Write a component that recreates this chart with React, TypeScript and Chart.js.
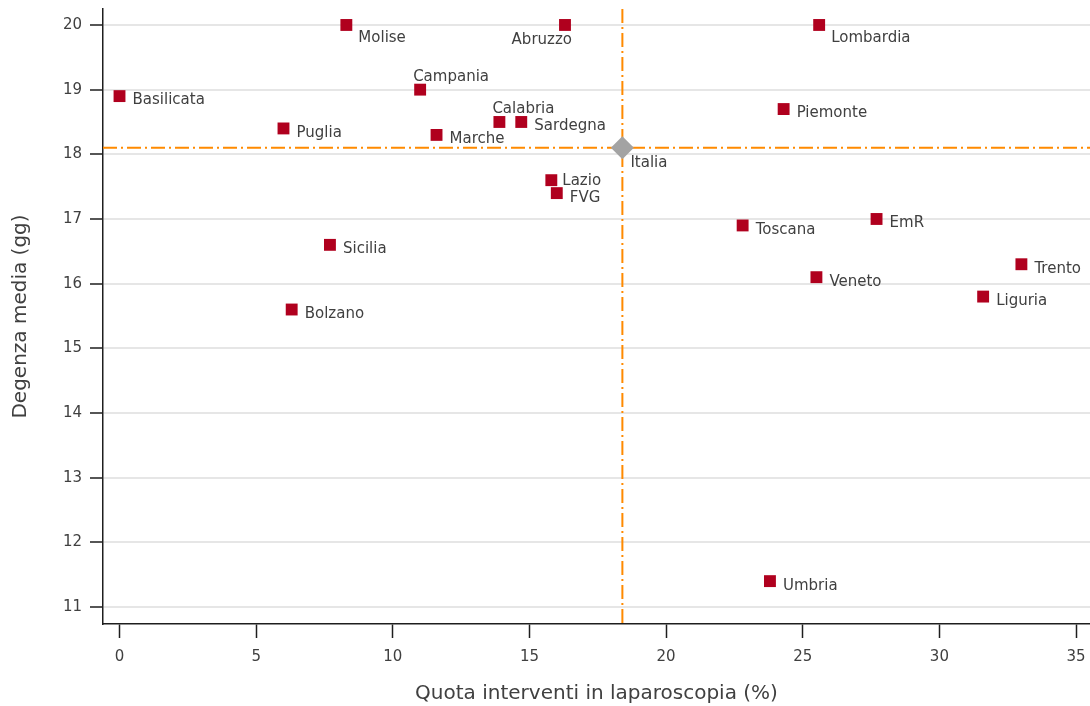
import React, { useEffect, useRef } from "react";
import { Chart, registerables } from "chart.js";

Chart.register(...registerables);

// ---- Data ----
const regions = [
  "Basilicata", "Puglia", "Molise", "Campania", "Marche", "Calabria", "Sardegna",
  "Abruzzo", "Lazio", "FVG", "Sicilia", "Bolzano", "Toscana", "Piemonte",
  "Lombardia", "EmR", "Veneto", "Umbria", "Liguria", "Trento",
];
const laparoscopia = [
  0.0, 6.0, 8.3, 11.0, 11.6, 13.9, 14.7,
  16.3, 15.8, 16.0, 7.7, 6.3, 22.8, 24.3,
  25.6, 27.7, 25.5, 23.8, 31.6, 33.0,
];
const degenza = [
  18.9, 18.4, 20.0, 19.0, 18.3, 18.5, 18.5,
  20.0, 17.6, 17.4, 16.6, 15.6, 16.9, 18.7,
  20.0, 17.0, 16.1, 11.4, 15.8, 16.3,
];
const labelPlacement = [
  "right", "right", "rightLow", "above", "right", "above", "right",
  "belowLeft", "rightHigh", "right", "right", "right", "right", "right",
  "rightLow", "right", "right", "right", "right", "right",
];
const italiaLabel = "Italia";
const italiaX = 18.4;
const italiaY = 18.1;
const xTicks = [0, 5, 10, 15, 20, 25, 30, 35];
const yTicks = [11, 12, 13, 14, 15, 16, 17, 18, 19, 20];
const xTitle = "Quota interventi in laparoscopia (%)";
const yTitle = "Degenza media (gg)";

// ---- Styles ----
const FONT = "'DejaVu Sans', Verdana, sans-serif";
const TEXT = "#404040";
const RED = "#b0001e";
const GREY = "#a3a3a3";
const ORANGE = "#ff8a00";
const AXIS = "#1e1e1e";
const GRID = "#e6e6e6";

const placements: Record<string, { dx: number; dy: number; align: CanvasTextAlign }> = {
  right: { dx: 13, dy: 4.5, align: "left" },
  rightLow: { dx: 12, dy: 13.5, align: "left" },
  rightHigh: { dx: 11, dy: 1, align: "left" },
  above: { dx: -7, dy: -12.5, align: "left" },
  belowLeft: { dx: 7, dy: 15.5, align: "right" },
  italia: { dx: 8, dy: 15.5, align: "left" },
};

const zeroPadding = () => ({ left: 0, top: 0, right: 0, bottom: 0 });

const refLinesPlugin = {
  id: "refLines",
  beforeDatasetsDraw(chart: any) {
    const { ctx, chartArea, scales } = chart;
    const px = scales.x.getPixelForValue(italiaX);
    const py = scales.y.getPixelForValue(italiaY);
    ctx.save();
    ctx.strokeStyle = ORANGE;
    ctx.lineWidth = 2;
    ctx.setLineDash([14, 4, 2, 4]);
    ctx.beginPath();
    ctx.moveTo(px, chartArea.top);
    ctx.lineTo(px, chartArea.bottom);
    ctx.stroke();
    ctx.beginPath();
    ctx.moveTo(chartArea.left, py);
    ctx.lineTo(chartArea.right, py);
    ctx.stroke();
    ctx.restore();
  },
};

const labelsPlugin = {
  id: "pointLabels",
  afterDatasetsDraw(chart: any) {
    const { ctx } = chart;
    ctx.save();
    ctx.font = `15px ${FONT}`;
    ctx.fillStyle = TEXT;
    ctx.textBaseline = "middle";
    chart.data.datasets.forEach((ds: any, di: number) => {
      const meta = chart.getDatasetMeta(di);
      meta.data.forEach((pt: any, i: number) => {
        const key = ds.placements[i];
        const p = placements[key];
        ctx.textAlign = p.align;
        ctx.fillText(ds.labels[i], pt.x + p.dx, pt.y + p.dy);
      });
    });
    ctx.restore();
  },
};

export default function App() {
  const ref = useRef<HTMLCanvasElement | null>(null);

  useEffect(() => {
    if (!ref.current) return;
    Chart.defaults.font.family = FONT;
    Chart.defaults.color = TEXT;

    const chart = new Chart(ref.current, {
      type: "scatter",
      data: {
        datasets: [
          {
            data: regions.map((_, i) => ({ x: laparoscopia[i], y: degenza[i] })),
            pointStyle: "rect",
            pointRadius: 8.4,
            pointHoverRadius: 8.4,
            backgroundColor: RED,
            borderColor: RED,
            borderWidth: 0,
            labels: regions,
            placements: labelPlacement,
          } as any,
          {
            data: [{ x: italiaX, y: italiaY }],
            pointStyle: "rectRot",
            pointRadius: 11.5,
            pointHoverRadius: 11.5,
            backgroundColor: GREY,
            borderColor: GREY,
            borderWidth: 0,
            labels: [italiaLabel],
            placements: ["italia"],
          } as any,
        ],
      },
      options: {
        responsive: false,
        animation: false,
        devicePixelRatio: 1,
        events: [],
        layout: { autoPadding: false, padding: { top: 9, left: 0, right: 0, bottom: 0 } },
        plugins: {
          legend: { display: false },
          tooltip: { enabled: false },
        },
        scales: {
          x: {
            type: "linear",
            min: -0.604,
            max: 35.51,
            afterBuildTicks: (s: any) => {
              s.ticks = xTicks.map((v) => ({ value: v }));
            },
            afterFit: (s: any) => {
              s.height = 82;
              s.paddingLeft = 0;
              s.paddingRight = 0;
              s.getPadding = zeroPadding;
            },
            grid: {
              display: true,
              drawOnChartArea: false,
              drawTicks: true,
              tickLength: 14,
              tickColor: AXIS,
              tickWidth: 1.5,
            },
            border: { display: true, color: AXIS, width: 1.5 },
            ticks: {
              padding: 10,
              color: TEXT,
              font: { size: 15, family: FONT },
              maxRotation: 0,
              autoSkip: false,
            },
            title: {
              display: true,
              text: xTitle,
              color: TEXT,
              font: { size: 20, family: FONT },
              padding: { top: 0, bottom: 0 },
            },
          },
          y: {
            type: "linear",
            min: 10.737,
            max: 20.247,
            afterBuildTicks: (s: any) => {
              s.ticks = yTicks.map((v) => ({ value: v }));
            },
            afterFit: (s: any) => {
              s.width = 103;
              s.paddingTop = 0;
              s.paddingBottom = 0;
              s.getPadding = zeroPadding;
            },
            grid: {
              display: true,
              drawOnChartArea: true,
              color: GRID,
              lineWidth: 2,
              drawTicks: true,
              tickLength: 13,
              tickColor: AXIS,
              tickWidth: 1.5,
            },
            border: { display: true, color: AXIS, width: 1.5 },
            ticks: {
              padding: 8,
              color: TEXT,
              font: { size: 15, family: FONT },
              autoSkip: false,
            },
            title: {
              display: true,
              text: yTitle,
              color: TEXT,
              font: { size: 20, family: FONT },
              padding: { top: 9, bottom: 0 },
            },
          },
        },
      },
      plugins: [refLinesPlugin, labelsPlugin],
    });

    return () => chart.destroy();
  }, []);

  return (
    <div style={{ position: "absolute", left: 0, top: 0, width: 1090, height: 706, background: "#fff" }}>
      <canvas ref={ref} width={1090} height={706} style={{ display: "block" }} />
    </div>
  );
}
